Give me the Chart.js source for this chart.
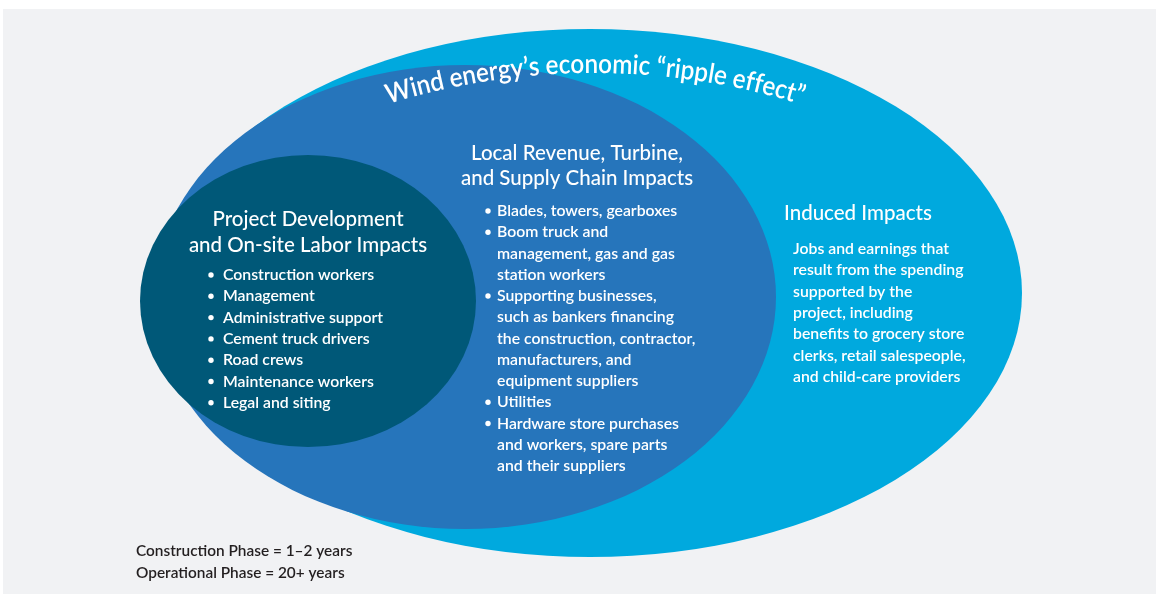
<!DOCTYPE html>
<html>
<head>
<meta charset="utf-8">
<script src="https://cdn.jsdelivr.net/npm/chart.js@4.4.1/dist/chart.umd.min.js"></script>
<style>
html,body{margin:0;padding:0;background:#ffffff;}
#wrap{position:relative;width:1156px;height:594px;}
</style>
</head>
<body>
<div id="wrap"><canvas id="c"></canvas></div>
<script>
// ---- data ----
const regions = ['Induced Impacts', 'Local Revenue, Turbine, and Supply Chain Impacts', 'Project Development and On-site Labor Impacts'];
const centerX = [590, 465, 308];
const centerY = [293, 297, 301];
const radiusX = [432, 311, 168];
const radiusY = [264, 232, 146];
const fillColors = ['#00a9de', '#2675bb', '#005878'];

const title = 'Wind energy’s economic “ripple effect”';

const innerHeading = ['Project Development', 'and On-site Labor Impacts'];
const innerBullets = ['Construction workers', 'Management', 'Administrative support', 'Cement truck drivers', 'Road crews', 'Maintenance workers', 'Legal and siting'];

const middleHeading = ['Local Revenue, Turbine,', 'and Supply Chain Impacts'];
const middleBullets = [
  ['Blades, towers, gearboxes'],
  ['Boom truck and', 'management, gas and gas', 'station workers'],
  ['Supporting businesses,', 'such as bankers financing', 'the construction, contractor,', 'manufacturers, and', 'equipment suppliers'],
  ['Utilities'],
  ['Hardware store purchases', 'and workers, spare parts', 'and their suppliers']
];

const outerHeading = ['Induced Impacts'];
const outerText = ['Jobs and earnings that', 'result from the spending', 'supported by the', 'project, including', 'benefits to grocery store', 'clerks, retail salespeople,', 'and child-care providers'];

const footnotes = ['Construction Phase = 1–2 years', 'Operational Phase = 20+ years'];

// ---- drawing ----
const FONT = 'Lato, "Open Sans", sans-serif';

const diagramPlugin = {
  id: 'diagram',
  beforeDraw(chart) {
    const ctx = chart.ctx;
    ctx.save();
    ctx.fillStyle = '#ffffff';
    ctx.fillRect(0, 0, chart.width, chart.height);
    ctx.fillStyle = '#f1f2f4';
    ctx.fillRect(3, 9, chart.width - 3, chart.height - 9);
    ctx.restore();
  },
  afterDatasetsDraw(chart) {
    const ctx = chart.ctx;
    const xs = chart.scales.x, ys = chart.scales.y;
    const px = v => xs.getPixelForValue(v);
    const py = v => ys.getPixelForValue(v);
    const sx = v => Math.abs(xs.getPixelForValue(v) - xs.getPixelForValue(0));
    const sy = v => Math.abs(ys.getPixelForValue(v) - ys.getPixelForValue(0));
    ctx.save();
    for (let i = 0; i < centerX.length; i++) {
      ctx.beginPath();
      ctx.ellipse(px(centerX[i]), py(centerY[i]), sx(radiusX[i]), sy(radiusY[i]), 0, 0, Math.PI * 2);
      ctx.fillStyle = fillColors[i];
      ctx.fill();
    }

    // curved title
    ctx.fillStyle = '#ffffff';
    ctx.font = '600 27px ' + FONT;
    const squeeze = 0.9;
    const R = 700, ccx = 594, ccy = 773;
    const total = ctx.measureText(title).width * squeeze;
    let acc = -total / 2;
    ctx.textBaseline = 'alphabetic';
    ctx.textAlign = 'center';
    for (const ch of title) {
      const w = ctx.measureText(ch).width * squeeze;
      const a = (acc + w / 2) / R;
      ctx.save();
      ctx.translate(ccx + R * Math.sin(a), ccy - R * Math.cos(a));
      ctx.rotate(a);
      ctx.scale(squeeze, 1);
      ctx.fillText(ch, 0, 0);
      ctx.restore();
      acc += w;
    }

    ctx.textBaseline = 'middle';
    const HEAD = '500 20.5px ' + FONT;
    const BODY = '600 15.8px ' + FONT;
    // inner
    ctx.font = HEAD;
    ctx.textAlign = 'center';
    innerHeading.forEach((t, k) => ctx.fillText(t, 308, 219 + k * 26));
    ctx.font = BODY;
    ctx.textAlign = 'left';
    innerBullets.forEach((t, k) => {
      const y = 275 + k * 21.3;
      ctx.beginPath(); ctx.arc(211, y, 2.7, 0, Math.PI * 2); ctx.fill();
      ctx.fillText(t, 223, y);
    });

    // middle
    ctx.font = HEAD;
    ctx.textAlign = 'center';
    middleHeading.forEach((t, k) => ctx.fillText(t, 577, 153 + k * 25));
    ctx.font = BODY;
    ctx.textAlign = 'left';
    let line = 0;
    middleBullets.forEach(item => {
      item.forEach((t, j) => {
        const y = 211 + line * 21.25;
        if (j === 0) { ctx.beginPath(); ctx.arc(488, y, 2.7, 0, Math.PI * 2); ctx.fill(); }
        ctx.fillText(t, 497, y);
        line++;
      });
    });

    // outer
    ctx.font = HEAD;
    outerHeading.forEach((t, k) => ctx.fillText(t, 784, 213));
    ctx.font = BODY;
    outerText.forEach((t, k) => ctx.fillText(t, 793, 249 + k * 21.3));

    // footnotes
    ctx.fillStyle = '#231f20';
    ctx.font = '600 15.4px ' + FONT;
    footnotes.forEach((t, k) => ctx.fillText(t, 136, 551 + k * 22));
    ctx.restore();
  }
};

new Chart(document.getElementById('c'), {
  type: 'scatter',
  data: {
    labels: regions,
    datasets: [{
      label: 'regions',
      data: centerX.map((x, i) => ({ x, y: centerY[i] })),
      pointRadius: 0,
      pointHoverRadius: 0
    }]
  },
  options: {
    responsive: true,
    maintainAspectRatio: false,
    animation: false,
    events: [],
    layout: { padding: 0 },
    plugins: { legend: { display: false }, tooltip: { enabled: false } },
    scales: {
      x: { type: 'linear', min: 0, max: 1156, display: false },
      y: { type: 'linear', min: 0, max: 594, reverse: true, display: false }
    }
  },
  plugins: [diagramPlugin]
});
</script>
</body>
</html>
